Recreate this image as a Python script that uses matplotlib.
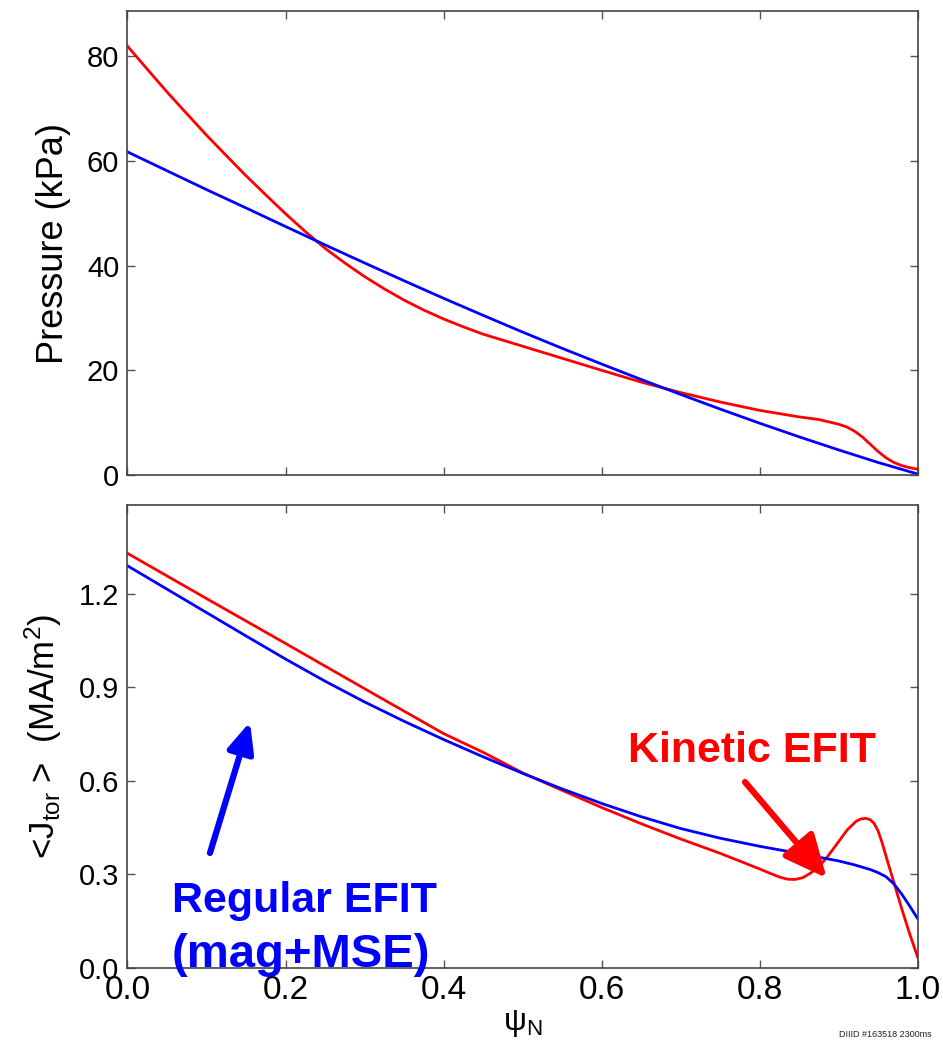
import matplotlib
matplotlib.use("Agg")
import matplotlib.pyplot as plt
import matplotlib.patheffects as pe

plt.rcParams['font.family'] = ['Liberation Sans', 'DejaVu Sans']
plt.rcParams['mathtext.fontset'] = 'custom'
plt.rcParams['mathtext.rm'] = 'Liberation Sans'
plt.rcParams['mathtext.it'] = 'Liberation Sans:italic'

# ---- pressure (kPa) vs psi_N ----
psi_p_blue = [0.0, 0.05, 0.1, 0.15, 0.2, 0.25, 0.3, 0.35, 0.4, 0.45, 0.5,
              0.55, 0.6, 0.65, 0.7, 0.75, 0.8, 0.85, 0.9, 0.95, 1.0]
p_blue = [61.7, 58.1, 54.5, 51.0, 47.45, 43.95, 40.5, 37.1, 33.75, 30.5, 27.3,
          24.2, 21.2, 18.25, 15.4, 12.6, 9.9, 7.3, 4.8, 2.4, 0.2]

psi_p_red = [0.0, 0.025, 0.05, 0.075, 0.1, 0.125, 0.15, 0.175, 0.2, 0.225,
             0.25, 0.275, 0.3, 0.325, 0.35, 0.375, 0.4, 0.425, 0.45, 0.5, 0.55,
             0.6, 0.65, 0.7, 0.75, 0.8, 0.85, 0.875, 0.9, 0.91, 0.92, 0.93,
             0.94, 0.95, 0.96, 0.97, 0.98, 0.99, 1.0]
p_red = [81.9, 77.5, 73.15, 69.0, 64.9, 61.0, 57.15, 53.5, 49.9, 46.5,
         43.3, 40.5, 37.9, 35.55, 33.4, 31.5, 29.8, 28.3, 26.9, 24.6, 22.3,
         20.0, 17.75, 15.75, 13.95, 12.35, 11.1, 10.6, 9.7, 9.2, 8.4, 7.3,
         5.9, 4.5, 3.3, 2.4, 1.8, 1.4, 1.1]

# ---- <J_tor> (MA/m^2) vs psi_N ----
psi_j_blue = [0.0, 0.05, 0.1, 0.15, 0.2, 0.25, 0.3, 0.35, 0.4, 0.45, 0.5, 0.55,
              0.6, 0.65, 0.7, 0.75, 0.8, 0.85, 0.9, 0.92, 0.94, 0.95, 0.96,
              0.97, 0.98, 0.99, 1.0]
j_blue = [1.290, 1.215, 1.140, 1.065, 0.991, 0.920, 0.8535, 0.7915, 0.733,
          0.6775, 0.6245, 0.5745, 0.528, 0.4855, 0.4475, 0.4165, 0.3905,
          0.3675, 0.3435, 0.331, 0.316, 0.306, 0.293, 0.270, 0.237, 0.199, 0.159]

psi_j_red = [0.0, 0.1, 0.2, 0.3, 0.4, 0.45, 0.5, 0.55, 0.6, 0.65, 0.7, 0.75,
             0.8, 0.815, 0.825, 0.835, 0.845, 0.855, 0.865, 0.875, 0.886, 0.9,
             0.911, 0.922, 0.928, 0.934, 0.94, 0.945, 0.95, 0.955, 0.963, 0.97,
             0.98, 0.99, 1.0]
j_red = [1.330, 1.185, 1.041, 0.896, 0.752, 0.692, 0.626, 0.570, 0.515, 0.463,
         0.414, 0.368, 0.318, 0.302, 0.292, 0.285, 0.284, 0.290, 0.305, 0.325,
         0.357, 0.405, 0.443, 0.470, 0.478, 0.480, 0.476, 0.464, 0.440, 0.403,
         0.334, 0.275, 0.190, 0.110, 0.036]

xticks = [0.0, 0.2, 0.4, 0.6, 0.8, 1.0]
p_ticks = [0, 20, 40, 60, 80]
j_ticks = [0.0, 0.3, 0.6, 0.9, 1.2]

fig = plt.figure(figsize=(9.43, 10.41), dpi=100)
ax1 = fig.add_axes([0.1352, 0.5437, 0.8378, 0.4457])
ax2 = fig.add_axes([0.1352, 0.0701, 0.8378, 0.4448])

for ax in (ax1, ax2):
    for s in ax.spines.values():
        s.set_color('#444444')
        s.set_linewidth(1.2)
    ax.tick_params(direction='in', length=6, width=1, color='#555555',
                   top=True, right=True)
    ax.set_xlim(0, 1)
    ax.set_xticks(xticks)

# top panel
ax1.plot(psi_p_red, p_red, color='red', lw=2)
ax1.plot(psi_p_blue, p_blue, color='blue', lw=2)
ax1.set_ylim(0, 88.6)
ax1.set_yticks(p_ticks)
ax1.set_xticklabels([])
ax1.tick_params(axis='y', labelsize=21, pad=6)
ax1.set_ylabel('Pressure (kPa)', fontsize=26, va='center')
ax1.yaxis.set_label_coords(-0.094, 0.5)

# bottom panel
ax2.plot(psi_j_red, j_red, color='red', lw=2)
ax2.plot(psi_j_blue, j_blue, color='blue', lw=2)
ax2.set_ylim(0, 1.485)
ax2.set_yticks(j_ticks)
ax2.set_yticklabels(['%.1f' % t for t in j_ticks])
ax2.set_xticklabels(['%.1f' % t for t in xticks])
ax2.tick_params(axis='y', labelsize=21, pad=6)
ax2.tick_params(axis='x', labelsize=24, pad=5)
ax2.set_ylabel(r'<J$_{\rm tor}$ >  (MA/m$^2$)', fontsize=25, va='center')
ax2.yaxis.set_label_coords(-0.106, 0.5)
ax2.set_xlabel(r'ψ$_{\rm N}$', fontsize=23, va='top')
ax2.xaxis.set_label_coords(0.5, -0.086)

# annotations
shadow = [pe.withSimplePatchShadow(offset=(2, -2), alpha=0.25)]
ax2.annotate('', xy=(0.155, 0.789), xytext=(0.1044, 0.369),
             arrowprops=dict(arrowstyle='-|>,head_length=0.9,head_width=0.4',
                             lw=4.5, color='blue', mutation_scale=20,
                             shrinkA=0, shrinkB=0, path_effects=shadow))
ax2.annotate('', xy=(0.885, 0.2887), xytext=(0.7816, 0.5965),
             arrowprops=dict(arrowstyle='-|>,head_length=1.3,head_width=0.6',
                             lw=4.5, color='red', mutation_scale=20,
                             shrinkA=0, shrinkB=0, path_effects=shadow))

ax2.text(0.6335, 0.661, 'Kinetic EFIT', color='red', fontsize=31,
         fontweight='bold', ha='left', va='baseline')
ax2.text(0.0563, 0.1796, 'Regular EFIT', color='blue', fontsize=31,
         fontweight='bold', ha='left', va='baseline')
ax2.text(0.0563, 0.0032, '(mag+MSE)', color='blue', fontsize=34,
         fontweight='bold', ha='left', va='baseline', clip_on=False)

fig.text(0.988, 1 - 1037 / 1041, 'DIIID #163518 2300ms', fontsize=6.5,
         ha='right', va='baseline', color='#222222')

fig.savefig('out.png', dpi=100)
